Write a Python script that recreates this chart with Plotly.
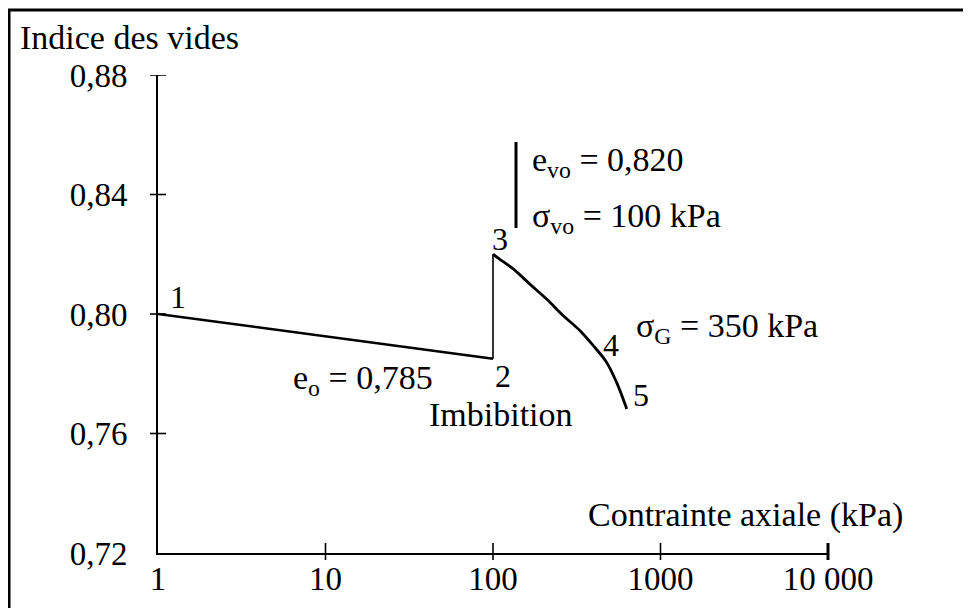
import numpy as np
import plotly.graph_objects as go

# Oedometer path: void ratio vs axial stress (log scale)
sigma_consol = [1, 100]          # kPa, points 1 -> 2
e_consol = [0.800, 0.785]
sigma_imbib = [100, 100]         # kPa, points 2 -> 3 (imbibition swell)
e_imbib = [0.785, 0.820]
sigma_load = [100, 110, 132, 166, 209, 263, 331, 397, 477, 547, 629]   # kPa, 3 -> 5
e_load = [0.820, 0.8183, 0.8151, 0.8100, 0.8050, 0.7994, 0.7944, 0.7894, 0.7838, 0.7771, 0.7682]

y_ticks = [0.72, 0.76, 0.80, 0.84, 0.88]
y_ticktext = ["0,72", "0,76", "0,80", "0,84", "0,88"]
x_ticks = [1, 10, 100, 1000, 10000]
x_ticktext = ["1", "10", "100", "1000", "10 000"]

FONT = "Liberation Serif, Times New Roman, serif"
OFF = 8                      # page body margin
W, H = 971 - OFF, 608 - OFF
L, R, T, B = 158 - OFF, 143, 75 - OFF, 55
PW, PH = W - L - R, H - T - B


def px(xp):
    # page pixel -> paper x
    return (xp - OFF - L) / PW


def py(yp):
    # page pixel -> paper y
    return (T + PH - (yp - OFF)) / PH


fig = go.Figure()
line_kw = dict(mode="lines", showlegend=False, hoverinfo="skip")
fig.add_trace(go.Scatter(x=sigma_consol, y=e_consol, line=dict(color="black", width=2.5), **line_kw))
fig.add_trace(go.Scatter(x=sigma_imbib, y=e_imbib, line=dict(color="black", width=1.6), **line_kw))
fig.add_trace(go.Scatter(x=sigma_load, y=e_load, line=dict(color="black", width=2.8, shape="spline"),
                         **line_kw))

annotations = []

# numbered points 1..5, placed next to path points
point_labels = [
    ("1", sigma_consol[0], e_consol[0], 20, 17),
    ("2", sigma_consol[1], e_consol[1], 10, -17),
    ("3", sigma_load[0], e_load[0], 7, 15),
    ("4", sigma_load[7], e_load[7], 18, 1),
    ("5", sigma_load[-1], e_load[-1], 14, 14),
]
for txt, xv, yv, dx, dy in point_labels:
    annotations.append(dict(x=np.log10(xv), y=yv, xref="x", yref="y", text=txt,
                            showarrow=False, xshift=dx, yshift=dy,
                            font=dict(size=32, color="black", family=FONT)))

# free text
texts = [
    ("Indice des vides", 18, 38, "left"),
    ("e<sub>o</sub> = 0,785", 363, 380, "center"),
    ("Imbibition", 501, 414, "center"),
    ("e<sub>vo</sub> = 0,820", 530, 162, "left"),
    ("σ<sub>vo</sub> = 100 kPa", 530, 218, "left"),
    ("σ<sub>G</sub> = 350 kPa", 634, 328, "left"),
    ("Contrainte axiale (kPa)", 745, 515, "center"),
]
for txt, xp, yp, anchor in texts:
    annotations.append(dict(x=px(xp), y=py(yp), xref="paper", yref="paper", text=txt,
                            showarrow=False, xanchor=anchor, yanchor="middle",
                            font=dict(size=34, color="black", family=FONT)))

shapes = []
# crossing tick marks on both axes
for v in y_ticks[1:]:
    shapes.append(dict(type="line", xref="paper", yref="y", xsizemode="pixel", xanchor=0,
                       x0=-8, x1=8, y0=v, y1=v, line=dict(color="black", width=1.6)))
for v in x_ticks[1:]:
    xv = np.log10(v) / np.log10(x_ticks[-1])
    shapes.append(dict(type="line", xref="paper", yref="paper", ysizemode="pixel", yanchor=0,
                       x0=xv, x1=xv, y0=-7, y1=10,
                       line=dict(color="black", width=3 if v == x_ticks[-1] else 1.6)))
# bracket next to the initial state values
shapes.append(dict(type="line", xref="paper", yref="paper", x0=px(516), x1=px(516),
                   y0=py(142), y1=py(228), line=dict(color="black", width=3)))
# outer frame (top and left edges)
shapes.append(dict(type="line", xref="paper", yref="paper", x0=px(0), x1=px(980),
                   y0=py(10), y1=py(10), line=dict(color="black", width=3)))
shapes.append(dict(type="line", xref="paper", yref="paper", x0=px(9), x1=px(9),
                   y0=py(10), y1=py(620), line=dict(color="black", width=3)))

fig.update_layout(
    width=W, height=H,
    margin=dict(l=L, r=R, t=T, b=B),
    paper_bgcolor="white", plot_bgcolor="white",
    font=dict(family=FONT, size=33, color="black"),
    showlegend=False,
    annotations=annotations,
    shapes=shapes,
    xaxis=dict(type="log", range=[0, 4], tickvals=x_ticks, ticktext=x_ticktext,
               showline=True, linecolor="black", linewidth=2, ticks="",
               showgrid=False, zeroline=False, ticklabelstandoff=-5, automargin=False,
               tickfont=dict(size=33, family=FONT, color="black")),
    yaxis=dict(range=[0.72, 0.88], tickvals=y_ticks, ticktext=y_ticktext,
               showline=True, linecolor="black", linewidth=2, ticks="",
               showgrid=False, zeroline=False, ticklabelstandoff=22, automargin=False,
               tickfont=dict(size=33, family=FONT, color="black")),
)

fig.write_html("out.html")
